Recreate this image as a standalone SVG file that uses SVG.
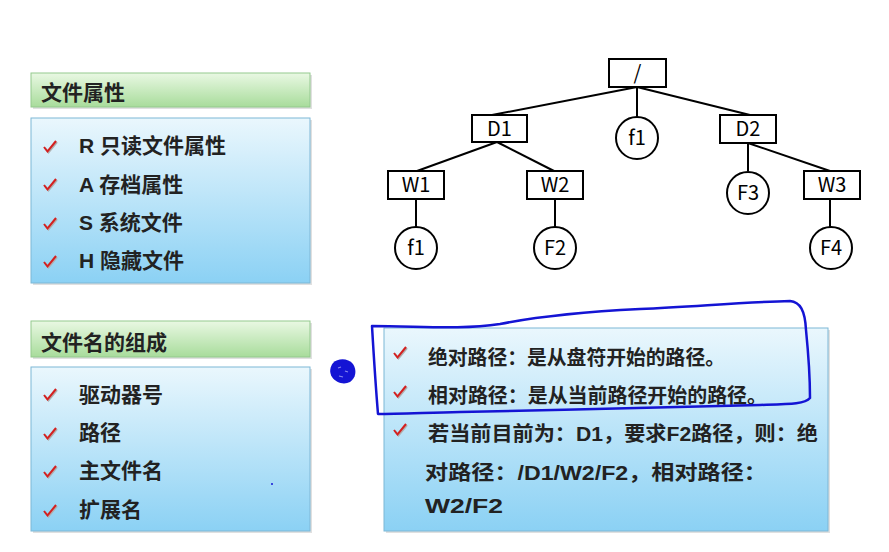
<svg xmlns="http://www.w3.org/2000/svg" xmlns:xlink="http://www.w3.org/1999/xlink" width="889" height="552" viewBox="0 0 889 552">
<style>
.hdr{fill:url(#gGreen);stroke:#93c98e;stroke-width:1}
.box{fill:url(#gBlue);stroke:#7db7d6;stroke-width:1}
.sh{fill:#000;opacity:0.12}
.t{font-family:"Liberation Sans","Noto Sans CJK SC",sans-serif;font-weight:bold;font-size:21px;fill:#222}
.tr{font-family:"Liberation Sans","Noto Sans CJK SC",sans-serif;font-weight:bold;font-size:20px;fill:#222}
.n{fill:#fff;stroke:#000;stroke-width:2}
.nt{font-family:"Noto Sans CJK SC","DejaVu Sans",sans-serif;font-size:20px;fill:#000;text-anchor:middle}
.e{stroke:#000;stroke-width:2;fill:none}
.ink{fill:none;stroke:#1414d4;stroke-width:2.5;stroke-linecap:round;stroke-linejoin:round}
</style>
<defs>
<linearGradient id="gGreen" x1="0" y1="0" x2="0" y2="1">
<stop offset="0" stop-color="#e9f8e3"/>
<stop offset="1" stop-color="#a8dc9b"/>
</linearGradient>
<linearGradient id="gBlue" x1="0" y1="0" x2="0" y2="1">
<stop offset="0" stop-color="#eaf7fd"/>
<stop offset="1" stop-color="#8bd1f4"/>
</linearGradient>
<g id="chk">
<path d="M1 7 L4.5 11.5 L13 1" fill="none" stroke="#b0b0b0" stroke-width="2" transform="translate(1,1)"/>
<path d="M1 7 L4.5 11.5 L13 1" fill="none" stroke="#d42020" stroke-width="2"/>
</g>
</defs>
<rect width="889" height="552" fill="#fff"/>

<g id="panel-attrs">
<rect class="sh" x="33" y="75" width="279" height="34"/>
<rect class="hdr" x="31" y="73" width="279" height="34"/>
<text class="t" x="41" y="100">文件属性</text>
<rect class="sh" x="33" y="120" width="279" height="165"/>
<rect class="box" x="31" y="118" width="279" height="165"/>
<use xlink:href="#chk" x="43" y="140"/>
<use xlink:href="#chk" x="43" y="178"/>
<use xlink:href="#chk" x="43" y="217"/>
<use xlink:href="#chk" x="43" y="255"/>
<text class="t" x="79" y="153">R 只读文件属性</text>
<text class="t" x="79" y="192">A 存档属性</text>
<text class="t" x="79" y="230">S 系统文件</text>
<text class="t" x="79" y="268">H 隐藏文件</text>
</g>

<g id="panel-names">
<rect class="sh" x="33" y="323" width="279" height="36"/>
<rect class="hdr" x="31" y="321" width="279" height="36"/>
<text class="t" x="41" y="350">文件名的组成</text>
<rect class="sh" x="33" y="369" width="279" height="164"/>
<rect class="box" x="31" y="367" width="279" height="164"/>
<use xlink:href="#chk" x="43" y="388"/>
<use xlink:href="#chk" x="43" y="427"/>
<use xlink:href="#chk" x="43" y="465"/>
<use xlink:href="#chk" x="43" y="504"/>
<text class="t" x="79" y="402">驱动器号</text>
<text class="t" x="79" y="440">路径</text>
<text class="t" x="79" y="478">主文件名</text>
<text class="t" x="79" y="517">扩展名</text>
<circle cx="272" cy="484" r="1" fill="#1414d4"/>
</g>

<g id="panel-paths">
<rect class="sh" x="386" y="330" width="444" height="203"/>
<rect class="box" x="384" y="328" width="444" height="203"/>
<use xlink:href="#chk" x="393" y="346"/>
<use xlink:href="#chk" x="393" y="385"/>
<use xlink:href="#chk" x="393" y="423"/>
<text class="tr" x="428" y="365" textLength="297" lengthAdjust="spacingAndGlyphs">绝对路径：是从盘符开始的路径。</text>
<text class="tr" x="428" y="403" textLength="339" lengthAdjust="spacingAndGlyphs">相对路径：是从当前路径开始的路径。</text>
<text class="tr" x="428" y="441" textLength="390" lengthAdjust="spacingAndGlyphs">若当前目前为：D1，要求F2路径，则：绝</text>
<text class="tr" x="425" y="480" textLength="342" lengthAdjust="spacingAndGlyphs">对路径：/D1/W2/F2，相对路径：</text>
<text class="tr" x="425" y="513" textLength="78" lengthAdjust="spacingAndGlyphs">W2/F2</text>
</g>

<g id="connectors">
<line class="e" x1="637" y1="87" x2="492" y2="115"/>
<line class="e" x1="637" y1="87" x2="637" y2="117"/>
<line class="e" x1="637" y1="87" x2="750" y2="115"/>
<line class="e" x1="497" y1="142" x2="417" y2="171"/>
<line class="e" x1="497" y1="142" x2="554" y2="171"/>
<line class="e" x1="748" y1="143" x2="748" y2="171"/>
<line class="e" x1="748" y1="143" x2="830" y2="171"/>
<line class="e" x1="416" y1="199" x2="416" y2="227"/>
<line class="e" x1="555" y1="199" x2="555" y2="227"/>
<line class="e" x1="830" y1="199" x2="830" y2="227"/>
</g>

<g id="n-root"><rect class="n" x="609" y="59" width="57" height="28"/><text class="nt" x="637.5" y="80">/</text></g>
<g id="n-D1"><rect class="n" x="472" y="115" width="55" height="27"/><text class="nt" x="499.5" y="136">D1</text></g>
<g id="n-f1a"><circle class="n" cx="637" cy="138" r="21"/><text class="nt" x="637" y="145">f1</text></g>
<g id="n-D2"><rect class="n" x="720" y="115" width="56" height="28"/><text class="nt" x="748" y="136">D2</text></g>
<g id="n-W1"><rect class="n" x="388" y="171" width="56" height="28"/><text class="nt" x="416" y="192">W1</text></g>
<g id="n-W2"><rect class="n" x="527" y="171" width="56" height="28"/><text class="nt" x="555" y="192">W2</text></g>
<g id="n-F3"><circle class="n" cx="748" cy="193" r="21"/><text class="nt" x="748" y="200">F3</text></g>
<g id="n-W3"><rect class="n" x="804" y="171" width="56" height="28"/><text class="nt" x="832" y="192">W3</text></g>
<g id="n-f1b"><circle class="n" cx="416" cy="248" r="21"/><text class="nt" x="416" y="255">f1</text></g>
<g id="n-F2"><circle class="n" cx="555" cy="248" r="21"/><text class="nt" x="555" y="255">F2</text></g>
<g id="n-F4"><circle class="n" cx="831" cy="248" r="21"/><text class="nt" x="831" y="255">F4</text></g>

<g id="annotation">
<path class="ink" d="M372 326 C420 326 460 330 500 324 C540 316 580 312 640 309 C700 306 750 302 790 301 C800 302 805 310 806 330 C808 350 810 375 810 398 C805 404 790 404 760 405 C680 407 560 410 460 412 C420 413 395 414 378 414 C376 390 374 360 372 326 Z"/>
<path d="M333 363 C338 358 348 358 353 364 C357 370 356 378 350 382 C344 385 336 383 332 377 C329 372 330 367 333 363 Z" fill="#1414d4"/>
<path d="M338 368 L341 367 M345 371 L348 372 M339 376 L343 377" stroke="#8a8af0" stroke-width="1.2" fill="none"/>
</g>
</svg>
